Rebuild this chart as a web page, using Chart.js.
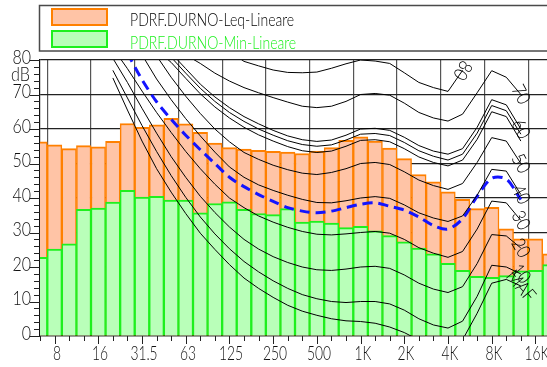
<!DOCTYPE html>
<html>
<head>
<meta charset="utf-8">
<script src="https://cdn.jsdelivr.net/npm/chart.js@4/dist/chart.umd.min.js"></script>
<style>
  html, body { margin: 0; padding: 0; background: #fff; overflow: hidden; width: 547px; height: 367px; }
  canvas { display: block; }
</style>
</head>
<body>
<canvas id="c" width="550" height="367"></canvas>
<script>
// 1/3-octave band centres (Hz)
const bands = ['6.3','8','10','12.5','16','20','25','31.5','40','50','63','80','100','125','160','200','250','315','400','500','630','800','1K','1.25K','1.6K','2K','2.5K','3.15K','4K','5K','6.3K','8K','10K','12.5K','16K','20K'];
// bands that carry a label / grid line
const tickLabels = ['8','16','31.5','63','125','250','500','1K','2K','4K','8K','16K'];
// level axis labels
const levelLabels = [0, 10, 20, 30, 40, 50, 60, 70, 80];

const leqName = 'PDRF.DURNO-Leq-Lineare';
const minName = 'PDRF.DURNO-Min-Lineare';

// spectra, dB
const leqValues = [56.3, 55.4, 54.3, 55.2, 54.8, 56.4, 61.6, 60.5, 61.2, 63.1, 61.5, 59.0, 55.9, 54.6, 54.2, 53.8, 53.5, 53.3, 52.9, 53.6, 54.6, 56.7, 57.7, 56.5, 54.5, 51.4, 46.8, 44.7, 41.8, 39.6, 36.9, 37.3, 31.1, 28.2, 28.2, 23.8];
const minValues = [22.8, 25.2, 26.7, 36.7, 37.1, 38.8, 42.2, 40.3, 40.5, 39.4, 39.4, 35.7, 38.4, 38.9, 36.7, 35.5, 35.2, 36.9, 33.0, 33.3, 32.7, 31.4, 31.8, 30.5, 29.1, 27.3, 25.5, 23.8, 21.1, 19.0, 17.3, 17.0, 17.5, 18.9, 19.0, 20.7];

// equal-loudness contours, dB per band (null = not drawn)
const N = null;
const phon80 = [N,N,N,N,N,N,N,N,N,N,N,N,N, 82.5, 79.6, 78.3, 77.1, 76.4, 76.3, 76.5, 77.6, 78.9, 80.0, 79.7, 79.0, 76.3, 73.5, 72.0, 70.9, 77.0, N,N,N,N,N,N];
const phon70 = [N,N,N,N,N,N,N,N,N,N, 81.5, 79.0, 76.2, 73.9, 72.0, 70.5, 69.1, 67.8, 66.6, 66.2, 66.6, 68.0, 70.0, 70.3, 69.8, 67.5, 64.8, 63.2, 62.3, 64.3, 70.5, 76.9, 75.0, 70.0, N,N];
const phon60 = [N,N,N,N,N,N,N,N,N, 82.0, 77.5, 73.0, 69.3, 66.2, 63.6, 61.5, 59.6, 58.0, 56.9, 56.4, 56.8, 58.2, 60.0, 60.2, 59.6, 57.6, 55.2, 53.6, 52.7, 54.3, 60.5, 68.5, 67.0, 60.0, N,N];
const level58 = [N,N,N,N,N,N,N,N,N, 80.8, 76.2, 71.8, 68.0, 64.8, 62.2, 60.0, 58.2, 56.6, 55.5, 55.0, 55.4, 56.8, 58.5, 58.7, 58.1, 56.1, 53.7, 52.1, 51.0, 52.7, 58.8, 66.8, 65.3, 58.5, N,N];
const level57 = [N,N,N,N,N,N,N,N, 83.0, 79.3, 74.7, 70.2, 66.4, 63.2, 60.5, 58.3, 56.5, 54.9, 53.7, 53.2, 53.6, 55.0, 56.7, 56.9, 56.3, 54.3, 51.9, 50.3, 49.3, 51.0, 57.0, 65.0, 63.6, 56.5, N,N];
const phon50 = [N,N,N,N,N,N,N,N, 81.2, 75.0, 69.5, 64.5, 60.0, 56.3, 53.2, 51.2, 49.5, 48.2, 47.2, 46.8, 47.4, 48.5, 50.0, 50.3, 49.7, 47.6, 45.2, 43.6, 42.5, 44.2, 50.3, 57.5, 56.5, 50.0, N,N];
const phon40 = [N,N,N,N,N,N,N, 81.5, 74.5, 68.5, 63.0, 58.0, 53.3, 49.0, 46.0, 43.8, 42.2, 40.8, 39.6, 38.7, 38.6, 39.2, 40.0, 40.4, 39.9, 38.0, 35.7, 34.2, 33.2, 34.8, 40.8, 48.3, 47.8, 41.0, N,N];
const loudness = [N,N,N,N,N,N, 82.0, 74.3, 67.9, 62.8, 58.2, 54.0, 50.0, 46.0, 43.3, 41.0, 39.0, 37.2, 36.2, 35.7, 36.2, 37.2, 38.2, 38.6, 37.6, 36.5, 34.5, 32.0, 31.0, 34.0, 40.5, 45.7, 45.5, 39.5, N,N];
const phon30 = [N,N,N,N,N, 83.5, 77.5, 71.0, 64.8, 59.0, 53.5, 48.5, 44.0, 40.0, 37.2, 34.8, 33.0, 31.5, 30.3, 29.5, 29.3, 29.6, 30.0, 30.3, 29.8, 28.0, 25.6, 24.0, 22.8, 24.5, 31.0, 39.1, 38.6, 33.5, N,N];
const phon20 = [N,N,N,N,N, 80.5, 73.5, 66.0, 58.8, 52.0, 46.0, 40.5, 35.8, 31.6, 28.0, 25.2, 23.0, 21.3, 20.0, 19.2, 19.0, 19.4, 20.0, 20.2, 19.6, 17.7, 15.3, 13.6, 12.6, 14.3, 21.0, 29.4, 29.0, 25.5, N,N];
const phon10 = [N,N,N,N,N, 77.0, 69.0, 61.0, 53.5, 46.5, 40.2, 34.5, 29.6, 25.3, 21.6, 18.6, 16.0, 13.8, 12.0, 10.8, 10.0, 9.7, 10.0, 10.0, 9.3, 7.5, 5.0, 3.2, 2.3, 4.3, 11.5, 20.5, 20.0, 18.0, N,N];
const maf = [N,N,N,N,N, 74.8, 65.5, 56.5, 48.5, 41.7, 35.5, 29.8, 25.1, 20.7, 16.8, 13.8, 11.2, 8.9, 7.2, 6.0, 5.0, 4.4, 4.2, 3.7, 2.6, 1.0, -1.2, -3.6, -3.9, -1.1, 6.6, 15.3, 16.4, 14.5, N,N];

const FAMILY = "Lato, 'Liberation Sans Narrow', 'DejaVu Sans Condensed', sans-serif";
const ORANGE = '#ff8000', ORANGE_FILL = '#ffc4a6';
const GREEN = '#1ef01e', GREEN_FILL = '#b9ffb9';

// a contour line; its name is written, turned by tagAngle degrees, on its last point
function contour(data, tag, tagAngle) {
  return { type: 'line', data, tag, tagAngle, order: 0, borderColor: '#000', borderWidth: 1,
           pointRadius: 0, tension: 0, fill: false, spanGaps: false };
}

// text squeezed horizontally, as in a narrow typeface
function narrowText(ctx, text, x, y, size, squeeze, align, color) {
  ctx.save();
  ctx.font = '300 ' + size + 'px ' + FAMILY;
  ctx.fillStyle = color;
  ctx.textBaseline = 'middle';
  ctx.textAlign = align;
  ctx.translate(x, y);
  ctx.scale(squeeze, 1);
  ctx.fillText(text, 0, 0);
  ctx.restore();
}

const decor = {
  id: 'decor',
  afterDatasetsDraw(chart) {
    const ctx = chart.ctx, xs = chart.scales.x, ys = chart.scales.y;
    chart.data.datasets.forEach(ds => {
      if (!ds.tag) return;
      let k = ds.data.length - 1;
      while (k > 0 && ds.data[k] == null) k--;
      const px = xs.getPixelForValue(k), py = ys.getPixelForValue(ds.data[k]);
      ctx.save();
      ctx.translate(px, py);
      ctx.rotate(ds.tagAngle * Math.PI / 180);
      narrowText(ctx, ds.tag, 0, 0, 19, 0.85, 'center', '#000');
      ctx.restore();
    });
  },
  afterDraw(chart) {
    const ctx = chart.ctx, xs = chart.scales.x, ys = chart.scales.y, area = chart.chartArea;
    ctx.save();
    ctx.strokeStyle = '#222';
    ctx.lineWidth = 1;
    // frequency axis: ticks and labels
    bands.forEach((b, i) => {
      const px = Math.round(xs.getPixelForValue(i)) + 0.5;
      const major = tickLabels.includes(b);
      ctx.beginPath(); ctx.moveTo(px, area.bottom); ctx.lineTo(px, area.bottom + (major ? 8 : 5)); ctx.stroke();
      if (major) narrowText(ctx, b, px + 1.5, area.bottom + 18, 20, 0.69, 'center', '#111');
    });
    // level axis: ticks and labels
    for (let v = 0; v <= 80; v += 2) {
      const py = Math.round(ys.getPixelForValue(v)) + 0.5;
      const major = v % 10 === 0;
      ctx.beginPath(); ctx.moveTo(area.left - (major ? 10 : 6), py); ctx.lineTo(area.left, py); ctx.stroke();
    }
    levelLabels.forEach(v => {
      narrowText(ctx, String(v), 31, ys.getPixelForValue(v) - 2.5, 20, 0.8, 'right', '#111');
    });
    narrowText(ctx, 'dB', 20.5, 75, 19, 0.85, 'center', '#111');
    // legend frame
    ctx.strokeStyle = '#4a4a4a';
    ctx.lineWidth = 1.5;
    ctx.strokeRect(39.5, 5.5, 620, 45.5);
    const items = [
      { name: leqName, stroke: ORANGE, fill: ORANGE_FILL, text: '#000', y: 8, ty: 20 },
      { name: minName, stroke: GREEN, fill: GREEN_FILL, text: GREEN, y: 30, ty: 43.5 }
    ];
    items.forEach(it => {
      ctx.fillStyle = it.fill;
      ctx.fillRect(51, it.y, 57, 18);
      ctx.strokeStyle = it.stroke;
      ctx.lineWidth = 2;
      ctx.strokeRect(52, it.y + 1, 55, 16);
      narrowText(ctx, it.name, 130, it.ty, 18.5, 0.76, 'left', it.text);
    });
    ctx.restore();
  }
};

new Chart(document.getElementById('c'), {
  type: 'bar',
  data: {
    labels: bands,
    datasets: [
      { label: minName, data: minValues, order: 1, grouped: false,
        backgroundColor: GREEN_FILL, borderColor: GREEN,
        borderWidth: { top: 2, left: 1.5, right: 1.5, bottom: 0 }, borderSkipped: false,
        barPercentage: 1, categoryPercentage: 1 },
      { label: leqName, data: leqValues, order: 2, grouped: false,
        backgroundColor: ORANGE_FILL, borderColor: ORANGE,
        borderWidth: { top: 2, left: 1.5, right: 1.5, bottom: 0 }, borderSkipped: false,
        barPercentage: 1, categoryPercentage: 1 },
      contour(phon80, '80', 120),
      contour(phon70, '70', 62),
      contour(phon60, '60', 62),
      contour(level58, null, 0),
      contour(level57, null, 0),
      contour(phon50, '50', 62),
      contour(phon40, '40', 62),
      contour(phon30, '30', 62),
      contour(phon20, '20', 60),
      contour(phon10, '10', 50),
      contour(maf, 'MAF', 50),
      { type: 'line', data: loudness, order: 0, borderColor: '#1414ff', borderWidth: 3,
        borderDash: [10, 6], pointRadius: 0, tension: 0.3, fill: false }
    ]
  },
  options: {
    responsive: false,
    animation: false,
    devicePixelRatio: 1,
    layout: { padding: { top: 60, left: 0, right: 0, bottom: 0 } },
    plugins: { legend: { display: false }, tooltip: { enabled: false } },
    scales: {
      x: {
        type: 'category',
        offset: false,
        afterFit(s) { s.height = 31; },
        grid: {
          drawTicks: false,
          color: c => tickLabels.includes(bands[c.index]) ? '#555' : 'rgba(0,0,0,0)',
          lineWidth: 1.2
        },
        border: { display: true, color: '#111', width: 1.2 },
        ticks: { display: false, autoSkip: false }
      },
      y: {
        min: 0, max: 80,
        afterFit(s) { s.width = 40; },
        grid: {
          drawTicks: false,
          color: c => c.tick.value % 10 === 0 ? '#222' : 'rgba(0,0,0,0)',
          lineWidth: 1.2
        },
        border: { display: true, color: '#111', width: 1.2 },
        ticks: { display: false, stepSize: 10 }
      }
    }
  },
  plugins: [decor]
});
</script>
</body>
</html>
